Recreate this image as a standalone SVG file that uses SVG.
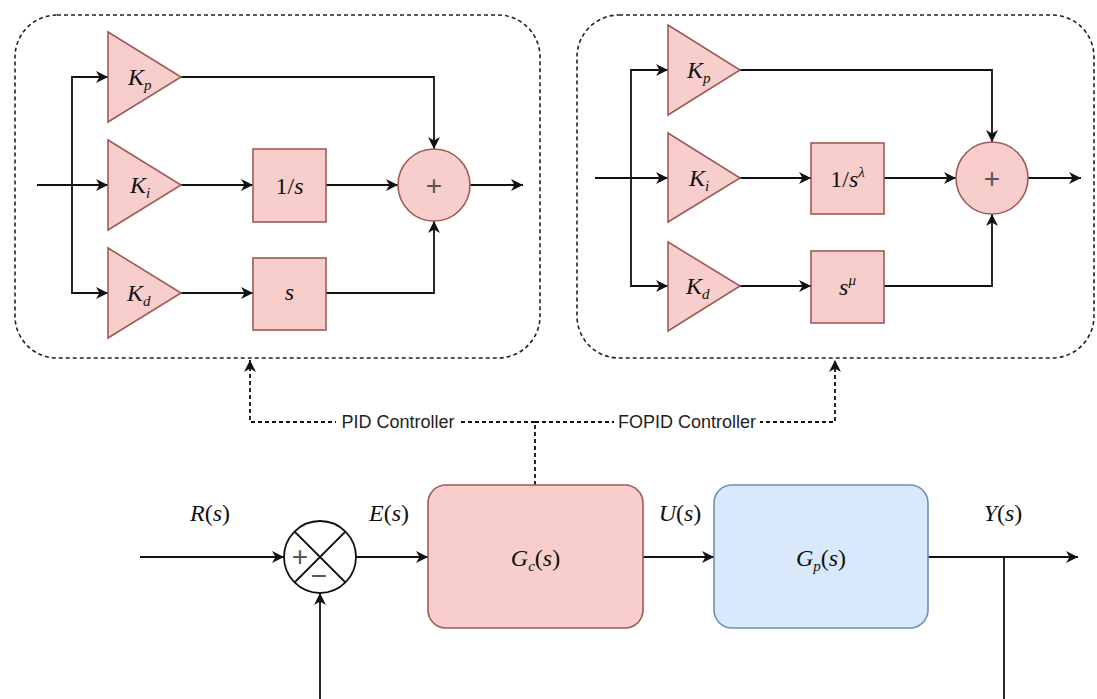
<svg xmlns="http://www.w3.org/2000/svg" width="1097" height="699" viewBox="0 0 1097 699">
<style>
.frame{fill:none;stroke:#222;stroke-width:1.6;stroke-dasharray:4 3}
.blk{fill:#f8cecc;stroke:#9e5a55;stroke-width:1.6}
.plant{fill:#dae8fc;stroke:#6c8ebf;stroke-width:1.6}
.ln{fill:none;stroke:#111;stroke-width:1.8}
.dl{fill:none;stroke:#111;stroke-width:1.8;stroke-dasharray:4 3}
.m{font-family:"Liberation Serif",serif;font-size:24px;fill:#111}
.mi{font-style:italic}
.sub{font-size:15px}
.lab{font-family:"Liberation Sans",sans-serif;font-size:18px;fill:#222}
.plus{font-family:"Liberation Sans",sans-serif;font-size:28px;fill:#555}
</style>
<defs>
<marker id="ar" markerUnits="userSpaceOnUse" markerWidth="14" markerHeight="12" refX="12" refY="6" orient="auto">
<path d="M0,0 L12,6 L0,12 L3.5,6 z" fill="#111"/>
</marker>
</defs>
<rect width="1097" height="699" fill="#fff"/>

<g id="pid-frame"><rect class="frame" x="15" y="15" width="525" height="343" rx="42"/></g>
<g id="fopid-frame"><rect class="frame" x="577" y="15" width="517" height="343" rx="42"/></g>

<g id="connectors">
<!-- PID -->
<path class="ln" d="M37,185 L108,185" marker-end="url(#ar)"/>
<path class="ln" d="M72,185 L72,77 L108,77" marker-end="url(#ar)"/>
<path class="ln" d="M72,185 L72,293 L108,293" marker-end="url(#ar)"/>
<path class="ln" d="M181,77 L434,77 L434,149" marker-end="url(#ar)"/>
<path class="ln" d="M181,185 L253,185" marker-end="url(#ar)"/>
<path class="ln" d="M326,185 L398,185" marker-end="url(#ar)"/>
<path class="ln" d="M470,185 L523,185" marker-end="url(#ar)"/>
<path class="ln" d="M181,293 L253,293" marker-end="url(#ar)"/>
<path class="ln" d="M326,293 L434,293 L434,221" marker-end="url(#ar)"/>
<!-- FOPID -->
<path class="ln" d="M595,178 L668,178" marker-end="url(#ar)"/>
<path class="ln" d="M631,178 L631,70 L668,70" marker-end="url(#ar)"/>
<path class="ln" d="M631,178 L631,286 L668,286" marker-end="url(#ar)"/>
<path class="ln" d="M740,70 L992,70 L992,142" marker-end="url(#ar)"/>
<path class="ln" d="M740,178 L811,178" marker-end="url(#ar)"/>
<path class="ln" d="M884,178 L956,178" marker-end="url(#ar)"/>
<path class="ln" d="M1028,178 L1081,178" marker-end="url(#ar)"/>
<path class="ln" d="M740,286 L811,286" marker-end="url(#ar)"/>
<path class="ln" d="M884,286 L992,286 L992,214" marker-end="url(#ar)"/>
<!-- main loop -->
<path class="ln" d="M140,557 L284,557" marker-end="url(#ar)"/>
<path class="ln" d="M356,557 L428,557" marker-end="url(#ar)"/>
<path class="ln" d="M643,557 L714,557" marker-end="url(#ar)"/>
<path class="ln" d="M928,557 L1078,557" marker-end="url(#ar)"/>
<path class="ln" d="M1004,557 L1004,699"/>
<path class="ln" d="M320,699 L320,593" marker-end="url(#ar)"/>
<!-- dashed controller links -->
<path class="dl" d="M535,485 L535,422"/>
<path class="dl" d="M535,422 L250,422 L250,360" marker-end="url(#ar)"/>
<path class="dl" d="M535,422 L835,422 L835,360" marker-end="url(#ar)"/>
<rect x="336" y="410" width="124" height="24" fill="#fff"/>
<text class="lab" x="398" y="428" text-anchor="middle">PID Controller</text>
<rect x="614" y="410" width="146" height="24" fill="#fff"/>
<text class="lab" x="687" y="428" text-anchor="middle">FOPID Controller</text>
</g>

<!-- PID nodes -->
<g id="pid-kp"><polygon class="blk" points="108,32 108,122 181,77"/>
<text class="m" x="128" y="85"><tspan class="mi">K</tspan><tspan class="mi sub" dy="5">p</tspan></text></g>
<g id="pid-ki"><polygon class="blk" points="108,140 108,230 181,185"/>
<text class="m" x="130" y="193"><tspan class="mi">K</tspan><tspan class="mi sub" dy="5">i</tspan></text></g>
<g id="pid-kd"><polygon class="blk" points="108,248 108,338 181,293"/>
<text class="m" x="127" y="301"><tspan class="mi">K</tspan><tspan class="mi sub" dy="5">d</tspan></text></g>
<g id="pid-int"><rect class="blk" x="253" y="149" width="73" height="73"/>
<text class="m" x="289.5" y="194" text-anchor="middle">1/<tspan class="mi">s</tspan></text></g>
<g id="pid-der"><rect class="blk" x="253" y="258" width="73" height="72"/>
<text class="m mi" x="289.5" y="300" text-anchor="middle">s</text></g>
<g id="pid-sum"><circle class="blk" cx="434" cy="185" r="36"/>
<text class="plus" x="434" y="195" text-anchor="middle">+</text></g>

<!-- FOPID nodes -->
<g id="fopid-kp"><polygon class="blk" points="668,25 668,115 740,70"/>
<text class="m" x="687" y="78"><tspan class="mi">K</tspan><tspan class="mi sub" dy="5">p</tspan></text></g>
<g id="fopid-ki"><polygon class="blk" points="668,133 668,222 740,178"/>
<text class="m" x="689" y="186"><tspan class="mi">K</tspan><tspan class="mi sub" dy="5">i</tspan></text></g>
<g id="fopid-kd"><polygon class="blk" points="668,242 668,331 740,286"/>
<text class="m" x="686" y="294"><tspan class="mi">K</tspan><tspan class="mi sub" dy="5">d</tspan></text></g>
<g id="fopid-int"><rect class="blk" x="811" y="143" width="73" height="71"/>
<text class="m" x="847.5" y="187" text-anchor="middle">1/<tspan class="mi">s</tspan><tspan class="mi sub" dy="-10">λ</tspan></text></g>
<g id="fopid-der"><rect class="blk" x="811" y="251" width="73" height="72"/>
<text class="m" x="847.5" y="295" text-anchor="middle"><tspan class="mi">s</tspan><tspan class="mi sub" dy="-10">μ</tspan></text></g>
<g id="fopid-sum"><circle class="blk" cx="992" cy="178" r="36"/>
<text class="plus" x="992" y="188" text-anchor="middle">+</text></g>

<!-- loop nodes -->
<g id="sum-junction"><circle cx="320" cy="557" r="36" fill="#fff" stroke="#111" stroke-width="1.8"/>
<path class="ln" d="M294.5,531.5 L345.5,582.5 M345.5,531.5 L294.5,582.5"/>
<text class="plus" x="300" y="566" text-anchor="middle" font-size="22" fill="#222">+</text>
<text class="plus" x="319" y="585" text-anchor="middle" font-size="22" fill="#222">−</text></g>
<g id="controller"><rect class="blk" x="428" y="485" width="215" height="143" rx="18"/>
<text class="m" x="535.5" y="566" text-anchor="middle"><tspan class="mi">G</tspan><tspan class="mi sub" dy="5">c</tspan><tspan dy="-5">(</tspan><tspan class="mi">s</tspan>)</text></g>
<g id="plant"><rect class="plant" x="714" y="485" width="214" height="143" rx="18"/>
<text class="m" x="821" y="566" text-anchor="middle"><tspan class="mi">G</tspan><tspan class="mi sub" dy="5">p</tspan><tspan dy="-5">(</tspan><tspan class="mi">s</tspan>)</text></g>

<g id="signal-labels">
<text class="m" x="210" y="521" text-anchor="middle"><tspan class="mi">R</tspan>(<tspan class="mi">s</tspan>)</text>
<text class="m" x="389" y="521" text-anchor="middle"><tspan class="mi">E</tspan>(<tspan class="mi">s</tspan>)</text>
<text class="m" x="680" y="521" text-anchor="middle"><tspan class="mi">U</tspan>(<tspan class="mi">s</tspan>)</text>
<text class="m" x="1003" y="521" text-anchor="middle"><tspan class="mi">Y</tspan>(<tspan class="mi">s</tspan>)</text>
</g>
</svg>
